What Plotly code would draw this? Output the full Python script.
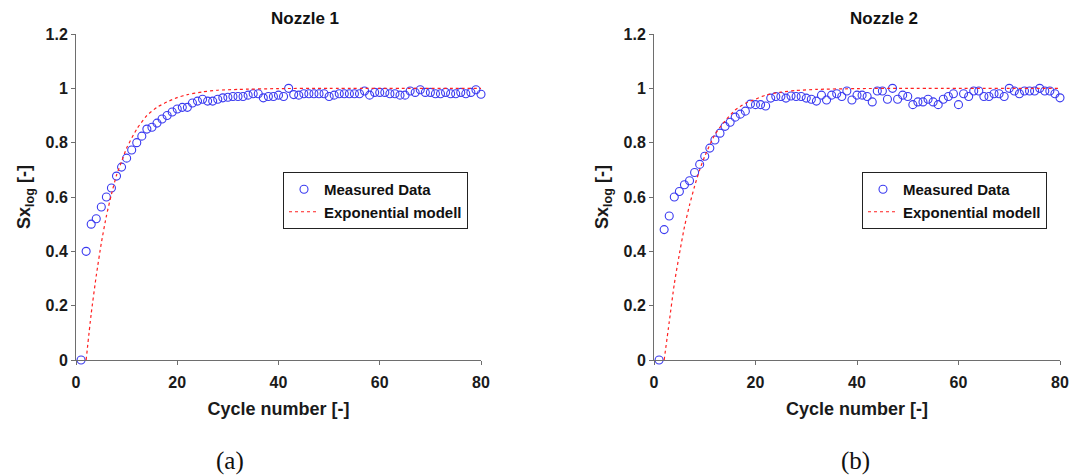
import plotly.graph_objects as go

cycles = list(range(1, 81))

nozzle1_measured = [
    0.00, 0.40, 0.50, 0.52, 0.563, 0.60, 0.633, 0.677, 0.71, 0.743,
    0.773, 0.80, 0.824, 0.85, 0.857, 0.872, 0.887, 0.90, 0.913, 0.924,
    0.93, 0.93, 0.946, 0.953, 0.96, 0.953, 0.953, 0.96, 0.965, 0.967,
    0.97, 0.97, 0.97, 0.975, 0.98, 0.98, 0.965, 0.97, 0.97, 0.975,
    0.97, 1.00, 0.977, 0.975, 0.98, 0.98, 0.98, 0.98, 0.98, 0.97,
    0.975, 0.98, 0.98, 0.98, 0.98, 0.98, 0.99, 0.975, 0.985, 0.985,
    0.985, 0.98, 0.98, 0.975, 0.975, 0.99, 0.985, 0.995, 0.985, 0.985,
    0.98, 0.98, 0.985, 0.98, 0.98, 0.985, 0.98, 0.985, 0.995, 0.978,
]

nozzle2_measured = [
    0.00, 0.48, 0.53, 0.60, 0.62, 0.645, 0.66, 0.69, 0.72, 0.75,
    0.78, 0.81, 0.835, 0.86, 0.875, 0.894, 0.905, 0.916, 0.942, 0.94,
    0.94, 0.935, 0.964, 0.97, 0.97, 0.964, 0.972, 0.97, 0.97, 0.964,
    0.96, 0.953, 0.975, 0.957, 0.975, 0.98, 0.97, 0.99, 0.957, 0.975,
    0.975, 0.97, 0.95, 0.99, 0.99, 0.96, 1.00, 0.96, 0.975, 0.97,
    0.94, 0.95, 0.95, 0.96, 0.95, 0.94, 0.96, 0.97, 0.98, 0.94,
    0.98, 0.97, 0.99, 0.99, 0.97, 0.97, 0.98, 0.98, 0.97, 1.00,
    0.99, 0.98, 0.99, 0.99, 0.99, 1.00, 0.99, 0.99, 0.98, 0.965,
]

model_x = [2, 3, 4, 5, 6, 7, 8, 9, 10, 12, 14, 16, 18, 20, 22, 25, 28, 32, 40, 50, 80]
nozzle1_model = [0.0, 0.17, 0.31, 0.43, 0.53, 0.61, 0.68, 0.73, 0.78, 0.85, 0.90,
                 0.93, 0.95, 0.966, 0.977, 0.987, 0.993, 0.996, 0.999, 1.0, 1.0]
nozzle2_model = [0.0, 0.14, 0.28, 0.39, 0.49, 0.57, 0.64, 0.70, 0.75, 0.83, 0.88,
                 0.92, 0.945, 0.96, 0.975, 0.986, 0.992, 0.996, 0.999, 1.0, 1.0]

titles = ["Nozzle 1", "Nozzle 2"]
captions = ["(a)", "(b)"]
x_ticks = [0, 20, 40, 60, 80]
y_ticks = [0, 0.2, 0.4, 0.6, 0.8, 1.0, 1.2]
y_tick_text = ["0", "0.2", "0.4", "0.6", "0.8", "1", "1.2"]

W, H = 1070, 475
FONT = "Liberation Sans, Arial, sans-serif"
AX_COLOR = "#6e6e6e"
TXT = "#1a1a1a"

fig = go.Figure()

panels = [
    dict(meas=nozzle1_measured, model=nozzle1_model, xd=[76 / W, 481 / W], legend="legend",
         xa="x", ya="y", title_x=305, cap_x=230),
    dict(meas=nozzle2_measured, model=nozzle2_model, xd=[654 / W, 1060 / W], legend="legend2",
         xa="x2", ya="y2", title_x=884, cap_x=855),
]
ydom = [1 - 360 / H, 1 - 34 / H]

for i, p in enumerate(panels):
    fig.add_trace(go.Scatter(
        x=cycles, y=p["meas"], mode="markers", name="Measured Data",
        marker=dict(symbol="circle-open", size=8, color="#3a3af0", line=dict(width=1.1)),
        xaxis=p["xa"], yaxis=p["ya"], legend=p["legend"], cliponaxis=False,
    ))
    fig.add_trace(go.Scatter(
        x=model_x, y=p["model"], mode="lines", name="Exponential modell",
        line=dict(color="#ff2020", width=1.2, dash="dot", shape="spline", smoothing=0.6),
        xaxis=p["xa"], yaxis=p["ya"], legend=p["legend"],
    ))

axis_common = dict(
    showline=True, linecolor=AX_COLOR, linewidth=1, mirror=False, automargin=False,
    showgrid=False, zeroline=False, ticks="outside", ticklen=4, tickcolor=AX_COLOR,
    tickfont=dict(family=FONT, size=16, color=TXT, weight="bold"),
)

for i, p in enumerate(panels):
    sfx = "" if i == 0 else "2"
    fig.update_layout(**{
        "xaxis" + sfx: dict(
            domain=p["xd"], range=[0, 80], tickvals=x_ticks, anchor="y" + sfx,
            ticklabelstandoff=4,
            title=dict(text="Cycle number [-]", standoff=12,
                       font=dict(family=FONT, size=18, color=TXT, weight="bold")),
            **axis_common,
        ),
        "yaxis" + sfx: dict(
            domain=ydom, range=[0, 1.2], tickvals=y_ticks, ticktext=y_tick_text,
            anchor="x" + sfx,
            title=dict(text="Sx<sub>log</sub> [-]", standoff=10,
                       font=dict(family=FONT, size=18, color=TXT, weight="bold")),
            **axis_common,
        ),
    })

legend_style = dict(
    bgcolor="white", bordercolor="#222222", borderwidth=1,
    font=dict(family=FONT, size=15, color="#111111", weight="bold"),
    xanchor="left", yanchor="top", tracegroupgap=0, itemwidth=30,
)
fig.update_layout(
    legend=dict(x=283 / W, y=1 - 172 / H, **legend_style),
    legend2=dict(x=862 / W, y=1 - 172 / H, **legend_style),
)

annotations = []
for i, p in enumerate(panels):
    annotations.append(dict(
        text=titles[i], x=p["title_x"] / W, y=1 - 18 / H, xref="paper", yref="paper",
        xanchor="center", yanchor="middle",
        showarrow=False, font=dict(family=FONT, size=17, color="#111111", weight="bold"),
    ))
    annotations.append(dict(
        text=captions[i], x=p["cap_x"] / W, y=1 - 461 / H, xref="paper", yref="paper",
        xanchor="center", yanchor="middle", showarrow=False,
        font=dict(family="Liberation Serif, Times New Roman, serif", size=25, color="#111111"),
    ))

fig.update_layout(
    width=W, height=H, margin=dict(l=0, r=0, t=0, b=0, autoexpand=False),
    paper_bgcolor="white", plot_bgcolor="white",
    annotations=annotations, showlegend=True,
)

fig.write_html("out.html")
